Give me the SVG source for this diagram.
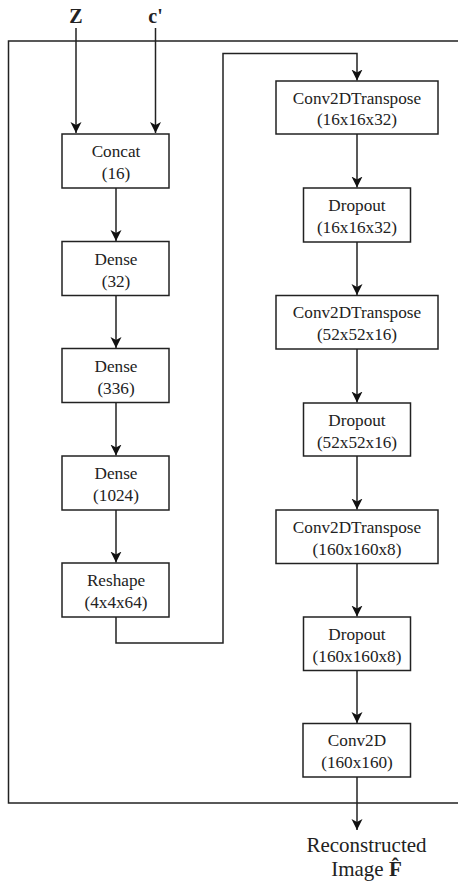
<svg xmlns="http://www.w3.org/2000/svg" width="458" height="886" viewBox="0 0 458 886">
<style>
.box{fill:#fff;stroke:#222;stroke-width:1.5}
.ln{fill:none;stroke:#222;stroke-width:1.5}
text{font-family:"Liberation Serif","Times New Roman",serif;fill:#222;text-anchor:middle}
.t{font-size:17.2px}
.big{font-size:21px}
.b{font-weight:bold;font-size:20px}
</style>
<defs>
<marker id="ah" markerWidth="12" markerHeight="12" viewBox="0 0 12 12" refX="11" refY="6" orient="auto" markerUnits="userSpaceOnUse">
<path d="M0,0.5 L11,6 L0,11.5 L3,6 Z" fill="#111"/>
</marker>
</defs>
<rect x="8.5" y="41" width="460" height="762" fill="none" stroke="#222" stroke-width="1.5"/>
<g id="connectors">
<path class="ln" d="M76,28 V133" marker-end="url(#ah)"/>
<path class="ln" d="M155.5,28 V133" marker-end="url(#ah)"/>
<path class="ln" d="M116,188 V241" marker-end="url(#ah)"/>
<path class="ln" d="M116,295 V348" marker-end="url(#ah)"/>
<path class="ln" d="M116,402 V455.5" marker-end="url(#ah)"/>
<path class="ln" d="M116,509.5 V562.5" marker-end="url(#ah)"/>
<path class="ln" d="M116,617 V643 H223 V53.5 H357 V80.5" marker-end="url(#ah)"/>
<path class="ln" d="M357,134 V187.5" marker-end="url(#ah)"/>
<path class="ln" d="M357,242 V295" marker-end="url(#ah)"/>
<path class="ln" d="M357,349 V402.5" marker-end="url(#ah)"/>
<path class="ln" d="M357,456 V509.5" marker-end="url(#ah)"/>
<path class="ln" d="M357,563.5 V616.5" marker-end="url(#ah)"/>
<path class="ln" d="M357,670.5 V723" marker-end="url(#ah)"/>
<path class="ln" d="M357,777 V830" marker-end="url(#ah)"/>
</g>
<g id="in-z"><text class="b" x="76" y="23">Z</text></g>
<g id="in-c"><text class="b" x="155.5" y="23">c'</text></g>
<g id="concat"><rect class="box" x="62" y="134" width="107" height="54"/><text class="t" x="116" y="157">Concat</text><text class="t" x="116" y="179">(16)</text></g>
<g id="dense32"><rect class="box" x="62" y="241.5" width="107" height="54"/><text class="t" x="116" y="264.5">Dense</text><text class="t" x="116" y="286.5">(32)</text></g>
<g id="dense336"><rect class="box" x="62" y="348.5" width="107" height="54"/><text class="t" x="116" y="371.5">Dense</text><text class="t" x="116" y="393.5">(336)</text></g>
<g id="dense1024"><rect class="box" x="62" y="456" width="107" height="54"/><text class="t" x="116" y="479">Dense</text><text class="t" x="116" y="501">(1024)</text></g>
<g id="reshape"><rect class="box" x="62" y="563" width="107" height="54"/><text class="t" x="116" y="586">Reshape</text><text class="t" x="116" y="608">(4x4x64)</text></g>
<g id="c2dt1"><rect class="box" x="276" y="81" width="162" height="53"/><text class="t" x="357" y="103.5">Conv2DTranspose</text><text class="t" x="357" y="125">(16x16x32)</text></g>
<g id="drop1"><rect class="box" x="303.5" y="188" width="107" height="54"/><text class="t" x="357" y="211">Dropout</text><text class="t" x="357" y="233">(16x16x32)</text></g>
<g id="c2dt2"><rect class="box" x="276" y="295.5" width="162" height="53.5"/><text class="t" x="357" y="318">Conv2DTranspose</text><text class="t" x="357" y="340">(52x52x16)</text></g>
<g id="drop2"><rect class="box" x="303.5" y="403" width="107" height="53"/><text class="t" x="357" y="425.5">Dropout</text><text class="t" x="357" y="447.5">(52x52x16)</text></g>
<g id="c2dt3"><rect class="box" x="276" y="510" width="162" height="53.5"/><text class="t" x="357" y="532.5">Conv2DTranspose</text><text class="t" x="357" y="554.5">(160x160x8)</text></g>
<g id="drop3"><rect class="box" x="303.5" y="617" width="107" height="53.5"/><text class="t" x="357" y="639.5">Dropout</text><text class="t" x="357" y="661.5">(160x160x8)</text></g>
<g id="conv2d"><rect class="box" x="303" y="723.5" width="107.5" height="53.5"/><text class="t" x="357" y="746">Conv2D</text><text class="t" x="357" y="768">(160x160)</text></g>
<g id="output"><text class="big" x="366.5" y="852">Reconstructed</text><text class="big" x="366.5" y="876">Image <tspan font-weight="bold">F̂</tspan></text></g>
</svg>
